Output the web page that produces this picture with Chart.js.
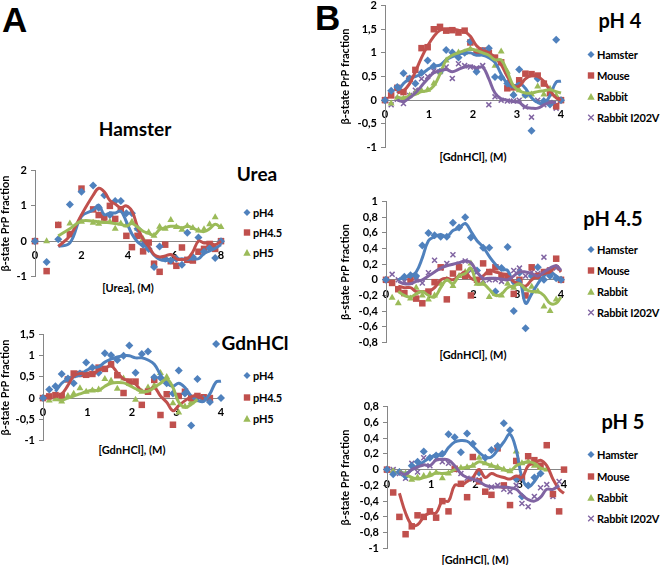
<!DOCTYPE html>
<html>
<head>
<meta charset="utf-8">
<script src="https://cdn.jsdelivr.net/npm/chart.js@4.4.0/dist/chart.umd.min.js"></script>
<style>
  body { margin: 0; width: 660px; height: 565px; background: #fff; position: relative; overflow: hidden; font-family: Lato, sans-serif; color: #000; }
  canvas { position: absolute; }
  .t { position: absolute; transform: translate(-50%, -50%); white-space: nowrap; font-weight: bold; }
  .big { position: absolute; font: bold 35px "Liberation Sans", Arial, sans-serif; line-height: 1; }
  .leg { position: absolute; transform: translateY(-50%); display: flex; align-items: center; white-space: nowrap; font: bold 11px Lato, sans-serif; letter-spacing: -0.2px; }
</style>
</head>
<body>
<div class="big" style="left:2px;top:2px">A</div>
<div class="big" style="left:315px;top:0px">B</div>

<div class="t" style="left:135px;top:128px;font-size:19px">Hamster</div>
<div class="t" style="left:257px;top:173px;font-size:19px">Urea</div>
<div class="t" style="left:255px;top:342px;font-size:19px">GdnHCl</div>
<div class="t" style="left:620px;top:20px;font-size:20px">pH 4</div>
<div class="t" style="left:613px;top:218px;font-size:20px">pH 4.5</div>
<div class="t" style="left:623px;top:421px;font-size:20px">pH 5</div>

<div class="t" style="left:128px;top:287px;font-size:11px">[Urea], (M)</div>
<div class="t" style="left:132px;top:449px;font-size:11px">[GdnHCl], (M)</div>
<div class="t" style="left:473px;top:156px;font-size:11px">[GdnHCl], (M)</div>
<div class="t" style="left:473px;top:354px;font-size:11px">[GdnHCl], (M)</div>
<div class="t" style="left:475px;top:559px;font-size:11px">[GdnHCl], (M)</div>

<script>
// x grids
const ureaM = [0, 0.5, 1, 1.5, 2, 2.5, 2.74, 2.98, 3.22, 3.45, 3.69, 3.93, 4.17, 4.41, 4.65, 4.89, 5.12, 5.36, 5.6, 5.84, 6.08, 6.32, 6.55, 6.79, 7.03, 7.27, 7.51, 7.75, 8];
const gdnM = [0, 0.14, 0.28, 0.42, 0.56, 0.69, 0.83, 0.97, 1.11, 1.25, 1.39, 1.53, 1.67, 1.81, 1.94, 2.08, 2.22, 2.36, 2.5, 2.64, 2.78, 2.92, 3.05, 3.19, 3.33, 3.47, 3.61, 3.75, 3.89, 4.0];

// Hamster, urea
const ureaPH4 = [0, -0.59, 0.05, 1.04, 1.4, 1.58, 0.95, 1.3, 0.74, 1.14, 1.14, 0.79, 0.79, 0.35, -0.1, -0.22, -0.73, -0.15, -0.5, -0.55, -0.5, -0.67, 0.24, -0.45, 0.1, -0.3, -0.2, -0.48, 0];
const ureaPH4Fit = [null, null, -0.15, -0.05, 0.7, 0.88, 1.02, 0.75, 0.8, 0.8, 0.85, 0.55, 0.2, -0.02, -0.12, -0.2, -0.4, -0.52, -0.55, -0.52, -0.52, -0.5, -0.52, -0.5, -0.5, -0.35, -0.28, -0.2, -0.1];
const ureaPH45 = [0, -0.85, 0.46, 0.2, 1.49, 0.9, 0.74, 0.67, 1.0, 0.63, 0.9, 0.15, -0.17, 0.15, -0.29, -0.04, -0.64, -0.87, -0.1, -0.57, -0.7, -0.18, -0.53, -0.55, -0.3, -0.22, -0.08, -0.22, 0];
const ureaPH45Fit = [null, null, -0.15, 0.15, 0.75, 1.3, 1.5, 1.4, 1.15, 1.05, 0.95, 1.0, 0.85, 0.4, 0.05, -0.15, -0.38, -0.45, -0.42, -0.38, -0.5, -0.52, -0.5, -0.3, 0.0, -0.05, -0.05, -0.1, 0.0];
const ureaPH5 = [0, 0, 0.46, 0.5, 0.55, 0.52, 0.49, 0.55, 0.55, 0.35, 0.5, 0.45, 0.55, 0.35, 0.06, 0.25, 0.15, 0.41, 0.35, 0.6, 0.4, 0.32, 0.43, 0.37, 0.3, 0.34, 0.48, 0.68, 0.4];
const ureaPH5Fit = [null, null, 0.15, 0.35, 0.57, 0.57, 0.55, 0.53, 0.52, 0.5, 0.48, 0.43, 0.5, 0.4, 0.28, 0.22, 0.17, 0.33, 0.38, 0.42, 0.42, 0.38, 0.42, 0.37, 0.3, 0.27, 0.35, 0.48, 0.38];

// GdnHCl, pH 4
const hamPH4 = [0, 0.2, 0.28, 0.57, 0.46, 0.35, 0.58, 0.84, 0.72, 0.6, 1.06, 1.01, 0.9, 1.0, 1.24, 0.6, 1.04, 1.1, 0.49, 0.48, 0.35, 0.11, 0.65, 0.11, -0.65, 0.45, -0.02, -0.09, 1.28, 0];
const hamPH4Fit = [null, null, 0.15, 0.35, 0.45, 0.5, 0.55, 0.65, 0.72, 0.74, 0.85, 0.92, 0.97, 1.0, 1.0, 0.95, 0.95, 0.9, 0.8, 0.55, 0.35, 0.28, 0.35, 0.25, 0.05, -0.05, -0.08, 0.1, 0.38, 0.4];
const mousePH4 = [0, 0.1, 0.26, 0.17, 0.45, 0.64, 1.1, 1.12, 1.5, 1.55, 1.47, 1.48, 1.43, 1.47, 1.22, 1.01, 1.05, 1.0, 0.9, 0.8, 0.25, 0.27, 0.42, 0.56, 0.55, 0.52, 0.35, 0.15, -0.13, 0];
const mousePH4Fit = [null, null, 0.15, 0.2, 0.35, 0.6, 0.9, 1.15, 1.35, 1.48, 1.5, 1.5, 1.48, 1.45, 1.35, 1.15, 1.05, 1.0, 0.9, 0.75, 0.5, 0.3, 0.3, 0.45, 0.52, 0.5, 0.4, 0.2, 0.05, 0.0];
const rabPH4 = [0, -0.07, 0.05, 0.03, 0.1, 0.15, 0.2, 0.22, 0.35, 0.6, 0.84, 0.95, 1.01, 1.0, 1.08, 1.02, 1.0, 0.95, 0.73, 1.03, 0.6, 0.13, 0.21, 0.1, 0.12, 0.29, 0.12, 0.24, 0.1, 0];
const rabPH4Fit = [null, null, 0.05, 0.05, 0.08, 0.12, 0.18, 0.2, 0.3, 0.55, 0.85, 0.95, 1.0, 1.05, 1.08, 1.05, 1.0, 0.95, 0.85, 0.85, 0.6, 0.3, 0.2, 0.15, 0.15, 0.18, 0.2, 0.22, 0.18, 0.15];
const rabVPH4 = [0, -0.1, 0.02, -0.07, 0.1, 0.21, 0.45, 0.5, 0.62, 0.6, 0.7, 0.46, 0.77, 0.73, 0.7, 0.68, 0.73, -0.1, 0.07, 0.0, -0.02, -0.02, 0.0, -0.14, -0.36, 0.0, -0.1, -0.05, -0.17, 0];
const rabVPH4Fit = [null, null, 0.0, -0.03, 0.05, 0.15, 0.3, 0.45, 0.58, 0.62, 0.65, 0.6, 0.65, 0.7, 0.72, 0.68, 0.7, 0.45, 0.15, 0.03, 0.0, -0.03, -0.05, -0.15, -0.17, -0.17, -0.1, -0.05, -0.05];

// GdnHCl, pH 4.5
const hamPH45 = [0, null, null, 0.04, 0.06, 0.05, 0.44, 0.6, 0.57, 0.55, 0.55, 0.73, 0.67, 0.8, 0.54, 0.12, 0.41, 0.41, -0.15, 0.15, 0.42, -0.4, 0.09, -0.62, 0.05, 0.16, 0.0, 0.05, 0.02, 0];
const hamPH45Fit = [null, null, 0.0, 0.03, 0.05, 0.1, 0.28, 0.5, 0.55, 0.58, 0.55, 0.63, 0.66, 0.72, 0.62, 0.5, 0.42, 0.3, 0.2, 0.13, 0.12, -0.05, 0.0, -0.3, -0.18, -0.05, 0.05, 0.1, 0.05, 0.0];
const mousePH45 = [0, -0.04, -0.12, -0.17, 0.0, -0.24, -0.3, -0.15, -0.03, 0.16, -0.25, 0.08, 0.16, 0.05, -0.2, 0.0, 0.21, 0.1, 0.16, 0.05, 0.05, -0.18, 0.0, -0.2, 0.16, 0.05, 0.1, 0.12, 0.27, 0];
const mousePH45Fit = [null, null, -0.08, -0.1, -0.1, -0.15, -0.15, -0.15, -0.1, 0.0, 0.02, 0.0, 0.05, 0.1, 0.02, 0.0, 0.05, 0.12, 0.1, 0.08, 0.05, -0.02, -0.05, -0.08, 0.0, 0.05, 0.08, 0.1, 0.18, 0.1];
const rabPH45 = [0, -0.23, -0.3, -0.18, -0.24, -0.1, -0.2, -0.25, -0.2, -0.05, 0.0, -0.08, 0.05, 0.1, 0.21, -0.05, -0.05, -0.22, -0.18, -0.2, -0.05, -0.1, -0.05, -0.12, -0.09, -0.15, -0.34, -0.4, -0.25, 0];
const rabPH45Fit = [null, null, -0.15, -0.2, -0.22, -0.18, -0.15, -0.2, -0.22, -0.1, 0.0, -0.05, 0.05, 0.08, 0.15, -0.05, -0.05, -0.12, -0.2, -0.18, -0.1, -0.08, -0.05, -0.12, -0.15, -0.15, -0.2, -0.3, -0.3, -0.22];
const rabVPH45 = [0, 0.07, 0.0, -0.02, -0.03, 0.0, -0.04, 0.09, 0.25, 0.15, 0.21, 0.32, 0.2, 0.24, 0.12, 0.1, -0.01, 0.0, 0.0, -0.02, 0.02, 0.12, 0.15, 0.05, 0.1, 0.08, 0.29, 0.1, 0.15, 0];
const rabVPH45Fit = [null, null, -0.02, -0.05, -0.05, -0.02, 0.0, 0.05, 0.1, 0.15, 0.18, 0.2, 0.22, 0.24, 0.22, 0.1, 0.02, 0.02, 0.02, 0.01, 0.0, 0.05, 0.1, 0.1, 0.08, 0.05, 0.1, 0.15, 0.18, 0.12];

// GdnHCl, pH 5
const hamPH5 = [0, -0.06, -0.03, -0.08, 0.05, 0.1, 0.23, 0.15, 0.18, 0.2, 0.45, 0.41, 0.22, 0.46, 0.33, -0.04, 0.15, 0.25, 0.3, 0.59, 0.5, -0.12, -0.34, -0.2, -0.1, -0.05];
const hamPH5Fit = [null, null, -0.02, -0.05, 0.0, 0.05, 0.1, 0.15, 0.19, 0.18, 0.28, 0.35, 0.37, 0.36, 0.3, 0.22, 0.16, 0.16, 0.25, 0.35, 0.45, 0.25, -0.1, -0.22, -0.15, -0.03];
const mousePH5 = [0, -0.29, -0.6, -0.82, -0.72, -0.58, -0.6, -0.53, -0.61, -0.4, -0.53, 0.01, -0.18, -0.35, 0.16, -0.15, -0.28, -0.32, 0.27, -0.2, -0.45, 0.11, -0.1, 0.17, 0.12, 0.05, 0.31, -0.31, -0.53, 0];
const mousePH5Fit = [null, null, -0.3, -0.55, -0.7, -0.7, -0.6, -0.55, -0.55, -0.4, -0.4, -0.2, -0.2, -0.15, -0.1, 0.0, -0.1, -0.05, -0.08, -0.1, -0.12, -0.08, -0.1, 0.05, 0.08, 0.12, 0.05, -0.12, -0.25, -0.3];
const rabPH5 = [0, -0.02, -0.03, -0.05, -0.13, -0.1, -0.08, -0.06, -0.04, -0.11, -0.05, 0.0, 0.02, 0.03, 0.05, 0.15, 0.08, 0.05, 0.03, 0.0, -0.02, 0.23, 0.08, 0.1, 0.05, 0.02, 0.0];
const rabPH5Fit = [null, null, -0.02, -0.06, -0.1, -0.12, -0.1, -0.08, -0.04, -0.05, -0.04, 0.0, 0.02, 0.03, 0.05, 0.1, 0.08, 0.05, 0.03, 0.0, -0.02, 0.05, 0.08, 0.1, 0.08, 0.02, 0.0];
const rabVPH5 = [0, 0.0, -0.05, -0.11, 0.08, -0.03, 0.15, 0.05, 0.14, 0.1, 0.08, 0.0, -0.05, -0.11, -0.12, -0.13, -0.28, -0.22, -0.2, -0.25, -0.28, -0.2, -0.43, -0.47, -0.34, -0.23, -0.19, -0.34, -0.15];
const rabVPH5Fit = [null, null, -0.03, -0.06, 0.0, 0.03, 0.06, 0.05, 0.12, 0.13, 0.12, 0.05, -0.05, -0.1, -0.12, -0.15, -0.2, -0.22, -0.22, -0.22, -0.23, -0.25, -0.32, -0.38, -0.4, -0.35, -0.25, -0.25, -0.2];

// Hamster GdnHCl pH 4.5 as plotted in panel A
const aPH45 = [0, 0.04, 0.07, 0.05, 0.44, 0.58, 0.57, 0.55, 0.57, 0.72, 0.69, 0.8, 0.54, 0.12, 0.39, 0.39, -0.16, 0.15, 0.43, -0.4, 0.09, -0.63, 0.05, 0.15, 0.0, 0.05, 0.02, 0.0];
const aPH45Fit = [null, null, 0.05, 0.1, 0.3, 0.52, 0.58, 0.57, 0.55, 0.66, 0.7, 0.76, 0.6, 0.45, 0.41, 0.33, 0.17, 0.17, 0.25, 0.05, -0.1, -0.3, -0.18, -0.06, 0.03, 0.06, -0.02];

const phLabels = ['pH4', 'pH4.5', 'pH5'];
const speciesLabels = ['Hamster', 'Mouse', 'Rabbit', 'Rabbit I202V'];

const BLUE = '#4F81BD', RED = '#C0504D', GREEN = '#9BBB59', PURPLE = '#8064A2';
const AXIS = '#868686';
const MARKS = [
    { color: BLUE, style: 'rectRot', r: 4 },
    { color: RED, style: 'rect', r: 4.6 },
    { color: GREEN, style: 'triangle', r: 4 },
    { color: PURPLE, style: 'crossRot', r: 3.5 }
];
const TICK_FONT = { family: 'Lato', size: 11, weight: 'bold' };

function pairs(xs, ys) {
    return ys.map((y, i) => ({ x: xs[i], y: y })).filter(p => p.y !== null);
}

function buildDatasets(xs, list) {
    const out = [];
    list.forEach(([ys, fit], k) => {
        const m = MARKS[k];
        out.push({
            data: pairs(xs, fit), showLine: true, borderColor: m.color, borderWidth: 3,
            pointRadius: 0, tension: 0.4, order: -k, clip: false
        });
        out.push({
            data: pairs(xs, ys), showLine: false, pointStyle: m.style, pointRadius: m.r,
            backgroundColor: m.color, borderColor: m.color,
            borderWidth: m.style === 'crossRot' ? 1.5 : 0, order: 10, clip: false
        });
    });
    return out;
}

const fmt = v => String(Math.round(v * 10) / 10).replace('.', ',');

function makeChart(box, xs, list, yr, xr) {
    const cv = document.createElement('canvas');
    cv.width = box.w;
    cv.height = box.h;
    cv.style.left = box.x + 'px';
    cv.style.top = box.y + 'px';
    document.body.appendChild(cv);

    new Chart(cv, {
        type: 'scatter',
        data: { datasets: buildDatasets(xs, list) },
        options: {
            responsive: false,
            animation: false,
            events: [],
            layout: { padding: { left: 0, top: 10, right: 8, bottom: 10 } },
            plugins: { legend: { display: false }, tooltip: { enabled: false } },
            scales: {
                x: {
                    type: 'linear', position: { y: 0 }, min: 0, max: xr.max,
                    ticks: { stepSize: xr.step, autoSkip: false, font: TICK_FONT, color: '#000', padding: 4, maxRotation: 0 },
                    grid: { display: false, drawTicks: true, tickLength: 4 },
                    border: { color: AXIS }
                },
                y: {
                    type: 'linear', position: 'left', min: yr.min, max: yr.max,
                    ticks: { stepSize: yr.step, autoSkip: false, font: TICK_FONT, color: '#000', padding: 4, callback: fmt },
                    grid: { drawOnChartArea: false, color: AXIS, tickLength: 4 },
                    border: { color: AXIS },
                    title: {
                        display: true, text: 'β-state PrP fraction', color: '#000', padding: 0,
                        font: { family: 'Lato', size: 11, weight: 'bold', lineHeight: 1 }
                    },
                    afterFit: s => { s.width = box.axisW; }
                }
            }
        }
    });
}

function markerSvg(k) {
    const c = MARKS[k].color;
    const shapes = [
        `<polygon points="4,0.5 7.5,4 4,7.5 0.5,4" fill="${c}"/>`,
        `<rect x="0.8" y="0.8" width="6.4" height="6.4" fill="${c}"/>`,
        `<polygon points="4,0.5 7.7,7.3 0.3,7.3" fill="${c}"/>`,
        `<path d="M1.2,1.2L6.8,6.8M6.8,1.2L1.2,6.8" stroke="${c}" stroke-width="1.3"/>`
    ];
    return `<svg width="8" height="8" viewBox="0 0 8 8">${shapes[k]}</svg>`;
}

function legend(labels, markX, textX, ys) {
    labels.forEach((lab, k) => {
        const d = document.createElement('div');
        d.className = 'leg';
        d.style.left = (markX - 4) + 'px';
        d.style.top = ys[k] + 'px';
        d.innerHTML = markerSvg(k) + `<span style="margin-left:${textX - markX - 4}px">${lab}</span>`;
        document.body.appendChild(d);
    });
}

makeChart({ x: 0, y: 160, w: 229, h: 127, axisW: 35 }, ureaM,
    [[ureaPH4, ureaPH4Fit], [ureaPH45, ureaPH45Fit], [ureaPH5, ureaPH5Fit]],
    { min: -1, max: 2, step: 1 }, { max: 8, step: 2 });

makeChart({ x: 0, y: 324, w: 229, h: 127, axisW: 43 }, gdnM,
    [[hamPH4, hamPH4Fit], [aPH45, aPH45Fit], [hamPH5, hamPH5Fit]],
    { min: -1, max: 1.5, step: 0.5 }, { max: 4, step: 1 });

makeChart({ x: 340, y: -5, w: 229, h: 163, axisW: 45 }, gdnM,
    [[hamPH4, hamPH4Fit], [mousePH4, mousePH4Fit], [rabPH4, rabPH4Fit], [rabVPH4, rabVPH4Fit]],
    { min: -1, max: 2, step: 0.5 }, { max: 4, step: 1 });

makeChart({ x: 340, y: 191, w: 229, h: 162, axisW: 46 }, gdnM,
    [[hamPH45, hamPH45Fit], [mousePH45, mousePH45Fit], [rabPH45, rabPH45Fit], [rabVPH45, rabVPH45Fit]],
    { min: -0.8, max: 1, step: 0.2 }, { max: 4, step: 1 });

makeChart({ x: 340, y: 396, w: 232, h: 163, axisW: 47 }, gdnM,
    [[hamPH5, hamPH5Fit], [mousePH5, mousePH5Fit], [rabPH5, rabPH5Fit], [rabVPH5, rabVPH5Fit]],
    { min: -1, max: 0.8, step: 0.2 }, { max: 4, step: 1 });

legend(phLabels, 247, 253, [212, 232, 252]);
legend(phLabels, 247, 253, [375, 397, 418]);
legend(speciesLabels, 591, 597, [54, 75, 96, 117]);
legend(speciesLabels, 591, 597, [249, 270, 291, 312]);
legend(speciesLabels, 591, 597, [454, 476, 497, 518]);
</script>
</body>
</html>
